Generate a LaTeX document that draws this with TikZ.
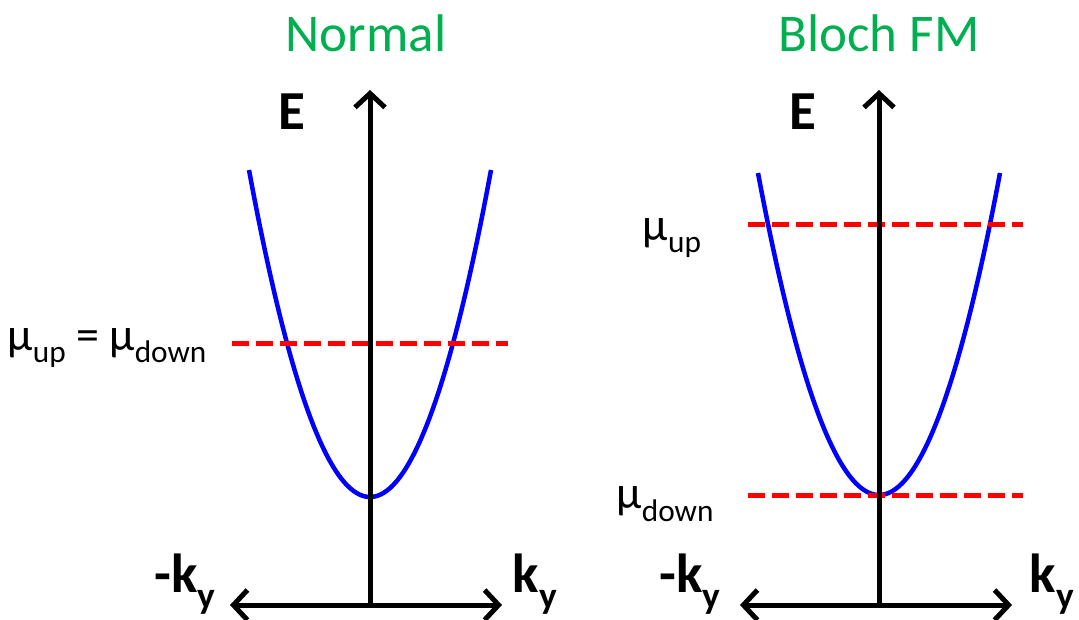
\documentclass[tikz,border=0pt]{standalone}
\usepackage{fontspec}
\setmainfont{Carlito}
\usetikzlibrary{arrows.meta}
\definecolor{titlegreen}{RGB}{0,176,80}
\definecolor{bandblue}{RGB}{0,0,255}
\definecolor{levelred}{RGB}{255,0,0}
\newcommand{\lowsub}[1]{\raisebox{-0.28em}{\scalebox{0.68}{#1}}}
\tikzset{
  barb/.tip={Straight Barb[length=14pt,width=30pt,line width=5pt]},
  axis/.style={line width=5pt, black, barb-},
  haxis/.style={line width=5pt, black, barb-barb},
  band/.style={line width=4.5pt, bandblue},
  level/.style={line width=5pt, levelred, dash pattern=on 17pt off 7pt},
  title/.style={text=titlegreen, font=\fontsize{53}{58}\selectfont, inner sep=0pt},
  axlab/.style={font=\fontsize{55}{60}\selectfont\bfseries, inner sep=0pt},
  mulab/.style={font=\fontsize{46}{50}\selectfont, inner sep=0pt}
}
\begin{document}
\begin{tikzpicture}[x=1pt,y=-1pt]
\useasboundingbox (0,0) rectangle (1079,619);
% ---- left panel
\coordinate (Lo) at (370,605);
\coordinate (Ltop) at (370,90);
\coordinate (Lleft) at (230,605);
\coordinate (Lright) at (502,605);
\draw[band] plot[domain=-121:121, samples=80, smooth] ({370+\x},{497-327*(\x/121)^2});
\coordinate (Lm1) at (232,343);
\coordinate (Lm2) at (508,343);
\draw[level] (Lm1) -- (Lm2);
\draw[axis] (Ltop) -- (Lo);
\draw[haxis] (Lleft) -- (Lright);
\node[title] (tN) at (366,33) {Normal};
\node[axlab] (E1) at (292,112) {E};
\node[axlab] (mk1) at (185,584) {-k\lowsub{y}};
\node[axlab] (k1) at (535,584) {k\lowsub{y}};
\node[mulab] (mu1) at (107,348) {µ\lowsub{up} = µ\lowsub{down}};
% ---- right panel
\coordinate (Ro) at (879,605);
\coordinate (Rtop) at (879,90);
\coordinate (Rleft) at (740,605);
\coordinate (Rright) at (1012,605);
\draw[band] plot[domain=-121:121, samples=80, smooth] ({879+\x},{495-322*(\x/121)^2});
\coordinate (Ru1) at (748,224);
\coordinate (Ru2) at (1023,224);
\coordinate (Rd1) at (748,495);
\coordinate (Rd2) at (1023,495);
\draw[level] (Ru1) -- (Ru2);
\draw[level] (Rd1) -- (Rd2);
\draw[axis] (Rtop) -- (Ro);
\draw[haxis] (Rleft) -- (Rright);
\node[title] (tB) at (879,33) {Bloch FM};
\node[axlab] (E2) at (803,112) {E};
\node[axlab] (mk2) at (690,584) {-k\lowsub{y}};
\node[axlab] (k2) at (1052,584) {k\lowsub{y}};
\node[mulab] (mu2) at (672,238) {µ\lowsub{up}};
\node[mulab] (mu3) at (665,504) {µ\lowsub{down}};
\end{tikzpicture}
\end{document}
